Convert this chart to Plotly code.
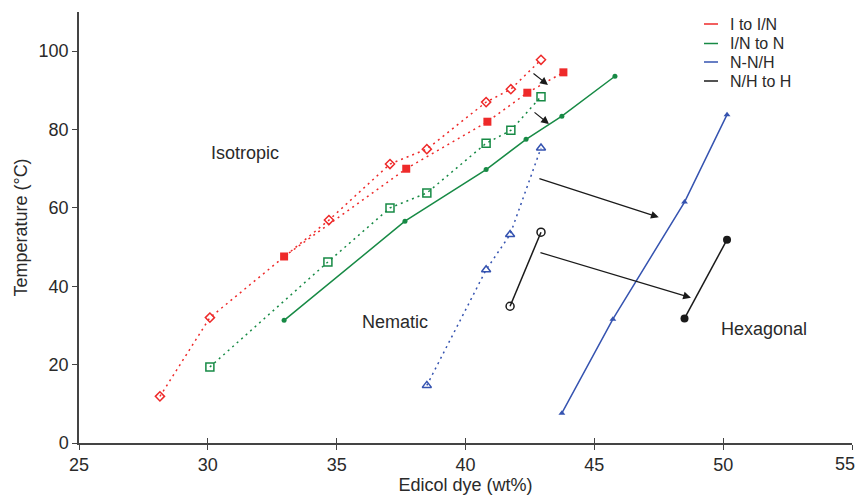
import plotly.graph_objects as go

# ---- data ----
iso_open_x = [28.14, 30.08, 34.7, 37.07, 38.5, 40.8, 41.76, 42.93]
iso_open_y = [11.9, 32.0, 56.9, 71.2, 75.0, 87.0, 90.3, 97.8]
iso_fill_x = [32.96, 37.7, 40.85, 42.4, 43.8]
iso_fill_y = [47.6, 70.0, 82.0, 89.4, 94.6]
in_open_x = [30.08, 34.66, 37.07, 38.5, 40.8, 41.76, 42.93]
in_open_y = [19.4, 46.2, 60.0, 63.8, 76.5, 79.8, 88.4]
in_fill_x = [32.96, 37.65, 40.8, 42.35, 43.74, 45.8]
in_fill_y = [31.3, 56.6, 69.8, 77.5, 83.4, 93.6]
nnh_open_x = [38.5, 40.8, 41.73, 42.93]
nnh_open_y = [14.7, 44.2, 53.2, 75.3]
nnh_fill_x = [43.74, 45.72, 48.5, 50.15]
nnh_fill_y = [7.6, 31.6, 61.5, 83.8]
nh_open_x = [41.73, 42.93]
nh_open_y = [34.9, 53.8]
nh_fill_x = [48.5, 50.15]
nh_fill_y = [31.8, 51.9]

x_tickvals = [25, 30, 35, 40, 45, 50, 55]
x_ticktext = ["25", "30", "35", "40", "45", "50", "55"]
y_tickvals = [0, 20, 40, 60, 80, 100]

legend_labels = ["I to I/N", "I/N to N", "N-N/H", "N/H to H"]
region_labels = ["Isotropic", "Nematic", "Hexagonal"]

RED = "#ee2a2a"
GREEN = "#178a45"
BLUE = "#3553b0"
BLACK = "#1a1a1a"
legend_colors = [RED, GREEN, BLUE, BLACK]

FONT = "Liberation Sans, Arial, sans-serif"
TXT = "#2a2a2a"
DOT = "2px,4px"

fig = go.Figure()

def add(x, y, color, dash, symbol, size, lw=1.5, mlw=1.5):
    fig.add_trace(go.Scatter(
        x=x, y=y, mode="lines+markers", showlegend=False,
        line=dict(color=color, width=lw, dash=dash),
        marker=dict(symbol=symbol, size=size, color=color,
                    line=dict(color=color, width=mlw)),
    ))

add(iso_open_x, iso_open_y, RED, DOT, "diamond-open", 7)
add(iso_fill_x, iso_fill_y, RED, DOT, "square", 8, mlw=0)
add(in_open_x, in_open_y, GREEN, DOT, "square-open", 8)
add(in_fill_x, in_fill_y, GREEN, "solid", "circle", 5, mlw=0)
add(nnh_open_x, nnh_open_y, BLUE, DOT, "triangle-up-open", 8)
add(nnh_fill_x, nnh_fill_y, BLUE, "solid", "triangle-up", 6, mlw=0)
add(nh_open_x, nh_open_y, BLACK, "solid", "circle-open", 8)
add(nh_fill_x, nh_fill_y, BLACK, "solid", "circle", 8, mlw=0)

# arrows (annotation layout, from -> to in data coords)
arrows = [
    ((42.58, 94.6), (43.2, 91.4)),
    ((42.62, 84.7), (43.24, 81.4)),
    ((42.81, 67.6), (47.5, 57.6)),
    ((42.85, 48.7), (48.75, 37.1)),
]
for (x0, y0), (x1, y1) in arrows:
    fig.add_annotation(x=x1, y=y1, ax=x0, ay=y0, xref="x", yref="y",
                       axref="x", ayref="y", text="", showarrow=True,
                       arrowhead=2, arrowsize=1.3, arrowwidth=1.2,
                       arrowcolor=BLACK)

# region labels
label_pos = [(31.45, 74), (37.25, 31), (51.6, 29)]
for t, (x, y) in zip(region_labels, label_pos):
    fig.add_annotation(x=x, y=y, xref="x", yref="y", text=t, showarrow=False,
                       font=dict(family=FONT, size=18, color=TXT))

# manual legend
L, R_, T, B = 79, 852, 12, 443
def px(xp):
    return (xp - L) / (R_ - L)
def py(yp):
    return (B - yp) / (B - T)

leg_y = [24, 43.5, 62, 81]
for lab, c, yy in zip(legend_labels, legend_colors, leg_y):
    fig.add_shape(type="line", xref="paper", yref="paper",
                  x0=px(704), x1=px(718), y0=py(yy), y1=py(yy),
                  line=dict(color=c, width=1.5))
    fig.add_annotation(xref="paper", yref="paper", x=px(728), y=py(yy),
                       xanchor="left", yanchor="middle", text=lab,
                       showarrow=False,
                       font=dict(family=FONT, size=16, color=TXT))

# last x tick label shifted inside the page (as in the reference)
shown_text = x_ticktext[:-1] + [""]
fig.add_annotation(xref="paper", yref="paper", x=px(857), y=py(464),
                   xanchor="right", yanchor="middle", text=x_ticktext[-1],
                   showarrow=False, font=dict(family=FONT, size=18, color=TXT))

axis_common = dict(showgrid=False, zeroline=False, showline=True,
                   linecolor="#444444", linewidth=1.5, automargin=False,
                   ticks="outside", ticklen=5, tickwidth=1.2,
                   tickcolor="#444444",
                   tickfont=dict(family=FONT, size=18, color=TXT))

fig.update_layout(
    width=858, height=497,
    margin=dict(l=79, r=6, t=12, b=54),
    paper_bgcolor="white", plot_bgcolor="white",
    xaxis=dict(range=[25, 55], tickvals=x_tickvals, ticktext=shown_text,
               title=dict(text="Edicol dye (wt%)", standoff=2,
                          font=dict(family=FONT, size=18, color=TXT)),
               **axis_common),
    yaxis=dict(range=[0, 110], tickvals=y_tickvals,
               title=dict(text="Temperature (°C)", standoff=6,
                          font=dict(family=FONT, size=18, color=TXT)),
               **axis_common),
    xaxis2=dict(range=[25, 55], overlaying="x", side="bottom",
                anchor="y", tickvals=x_tickvals,
                ticks="inside", ticklen=5, tickwidth=1.2, tickcolor="#444444",
                showticklabels=False, showgrid=False, zeroline=False,
                showline=False, automargin=False),
)
# dummy trace for xaxis2
fig.add_trace(go.Scatter(x=[25], y=[0], xaxis="x2", mode="markers",
                         marker=dict(opacity=0), showlegend=False,
                         hoverinfo="skip"))

fig.write_html("out.html")
